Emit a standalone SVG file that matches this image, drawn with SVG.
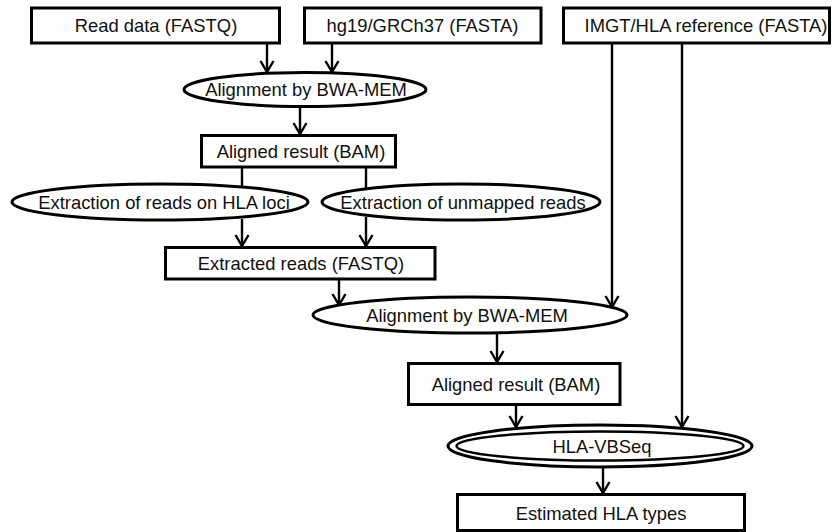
<svg xmlns="http://www.w3.org/2000/svg" width="832" height="532" viewBox="0 0 832 532">
<style>
.box{fill:#fff;stroke:#000;stroke-width:3}
.ell{fill:#fff;stroke:#000;stroke-width:3}
.t{font-family:"Liberation Sans",Arial,sans-serif;font-size:18.4px;fill:#111;text-anchor:middle}
.c{fill:none;stroke:#000;stroke-width:2.4}
</style>
<defs>
<marker id="arr" markerUnits="userSpaceOnUse" viewBox="-13 -8 15 16" markerWidth="15" markerHeight="16" refX="0" refY="0" orient="auto">
<path d="M-11,-6.5 L0,0 L-11,6.5" fill="none" stroke="#000" stroke-width="2.4"/>
</marker>
</defs>
<rect width="832" height="532" fill="#fff"/>
<g id="connectors">
<line class="c" x1="267" y1="43" x2="267" y2="72" marker-end="url(#arr)"/>
<line class="c" x1="332" y1="43" x2="332" y2="72" marker-end="url(#arr)"/>
<line class="c" x1="300" y1="107" x2="300" y2="134" marker-end="url(#arr)"/>
<line class="c" x1="242" y1="167" x2="242" y2="187"/>
<line class="c" x1="366" y1="167" x2="366" y2="189"/>
<line class="c" x1="242" y1="219" x2="242" y2="246" marker-end="url(#arr)"/>
<line class="c" x1="366" y1="217" x2="366" y2="246" marker-end="url(#arr)"/>
<line class="c" x1="339" y1="279" x2="339" y2="305" marker-end="url(#arr)"/>
<line class="c" x1="612" y1="43" x2="612" y2="307" marker-end="url(#arr)"/>
<line class="c" x1="682" y1="43" x2="682" y2="427" marker-end="url(#arr)"/>
<line class="c" x1="497" y1="333" x2="497" y2="362" marker-end="url(#arr)"/>
<line class="c" x1="516" y1="405" x2="516" y2="427" marker-end="url(#arr)"/>
<line class="c" x1="603" y1="467" x2="603" y2="493" marker-end="url(#arr)"/>
</g>
<g id="read-data">
<rect class="box" x="31.5" y="8" width="248" height="35"/>
<text class="t" x="156" y="32">Read data (FASTQ)</text>
</g>
<g id="hg19">
<rect class="box" x="304.5" y="8" width="236.5" height="35"/>
<text class="t" x="422.5" y="32">hg19/GRCh37 (FASTA)</text>
</g>
<g id="imgt">
<rect class="box" x="563.5" y="8" width="266" height="35"/>
<text class="t" x="706" y="32">IMGT/HLA reference (FASTA)</text>
</g>
<g id="align1">
<ellipse class="ell" cx="305" cy="89.5" rx="121" ry="17"/>
<text class="t" x="306" y="96">Alignment by BWA-MEM</text>
</g>
<g id="bam1">
<rect class="box" x="201.5" y="135.5" width="194" height="31.5"/>
<text class="t" x="301" y="157.5">Aligned result (BAM)</text>
</g>
<g id="extract-hla">
<ellipse class="ell" cx="160" cy="202" rx="148" ry="18"/>
<text class="t" x="164" y="208.5">Extraction of reads on HLA loci</text>
</g>
<g id="extract-unmapped">
<ellipse class="ell" cx="461" cy="202" rx="139" ry="18"/>
<text class="t" x="463" y="208.5">Extraction of unmapped reads</text>
</g>
<g id="extracted">
<rect class="box" x="165.5" y="247.5" width="269.5" height="31.5"/>
<text class="t" x="301" y="269.5">Extracted reads (FASTQ)</text>
</g>
<g id="align2">
<ellipse class="ell" cx="470" cy="315" rx="157" ry="18"/>
<text class="t" x="467" y="321.5">Alignment by BWA-MEM</text>
</g>
<g id="bam2">
<rect class="box" x="408.5" y="363.5" width="211.5" height="41"/>
<text class="t" x="516" y="390.5">Aligned result (BAM)</text>
</g>
<g id="hla-vbseq">
<ellipse class="ell" cx="600" cy="446" rx="152" ry="21"/>
<ellipse fill="none" stroke="#000" stroke-width="2.5" cx="600" cy="446" rx="143.5" ry="14.5"/>
<text class="t" x="602" y="452.5">HLA-VBSeq</text>
</g>
<g id="estimated">
<rect class="box" x="457.5" y="494.5" width="287" height="36"/>
<text class="t" x="601" y="519.5">Estimated HLA types</text>
</g>
</svg>
